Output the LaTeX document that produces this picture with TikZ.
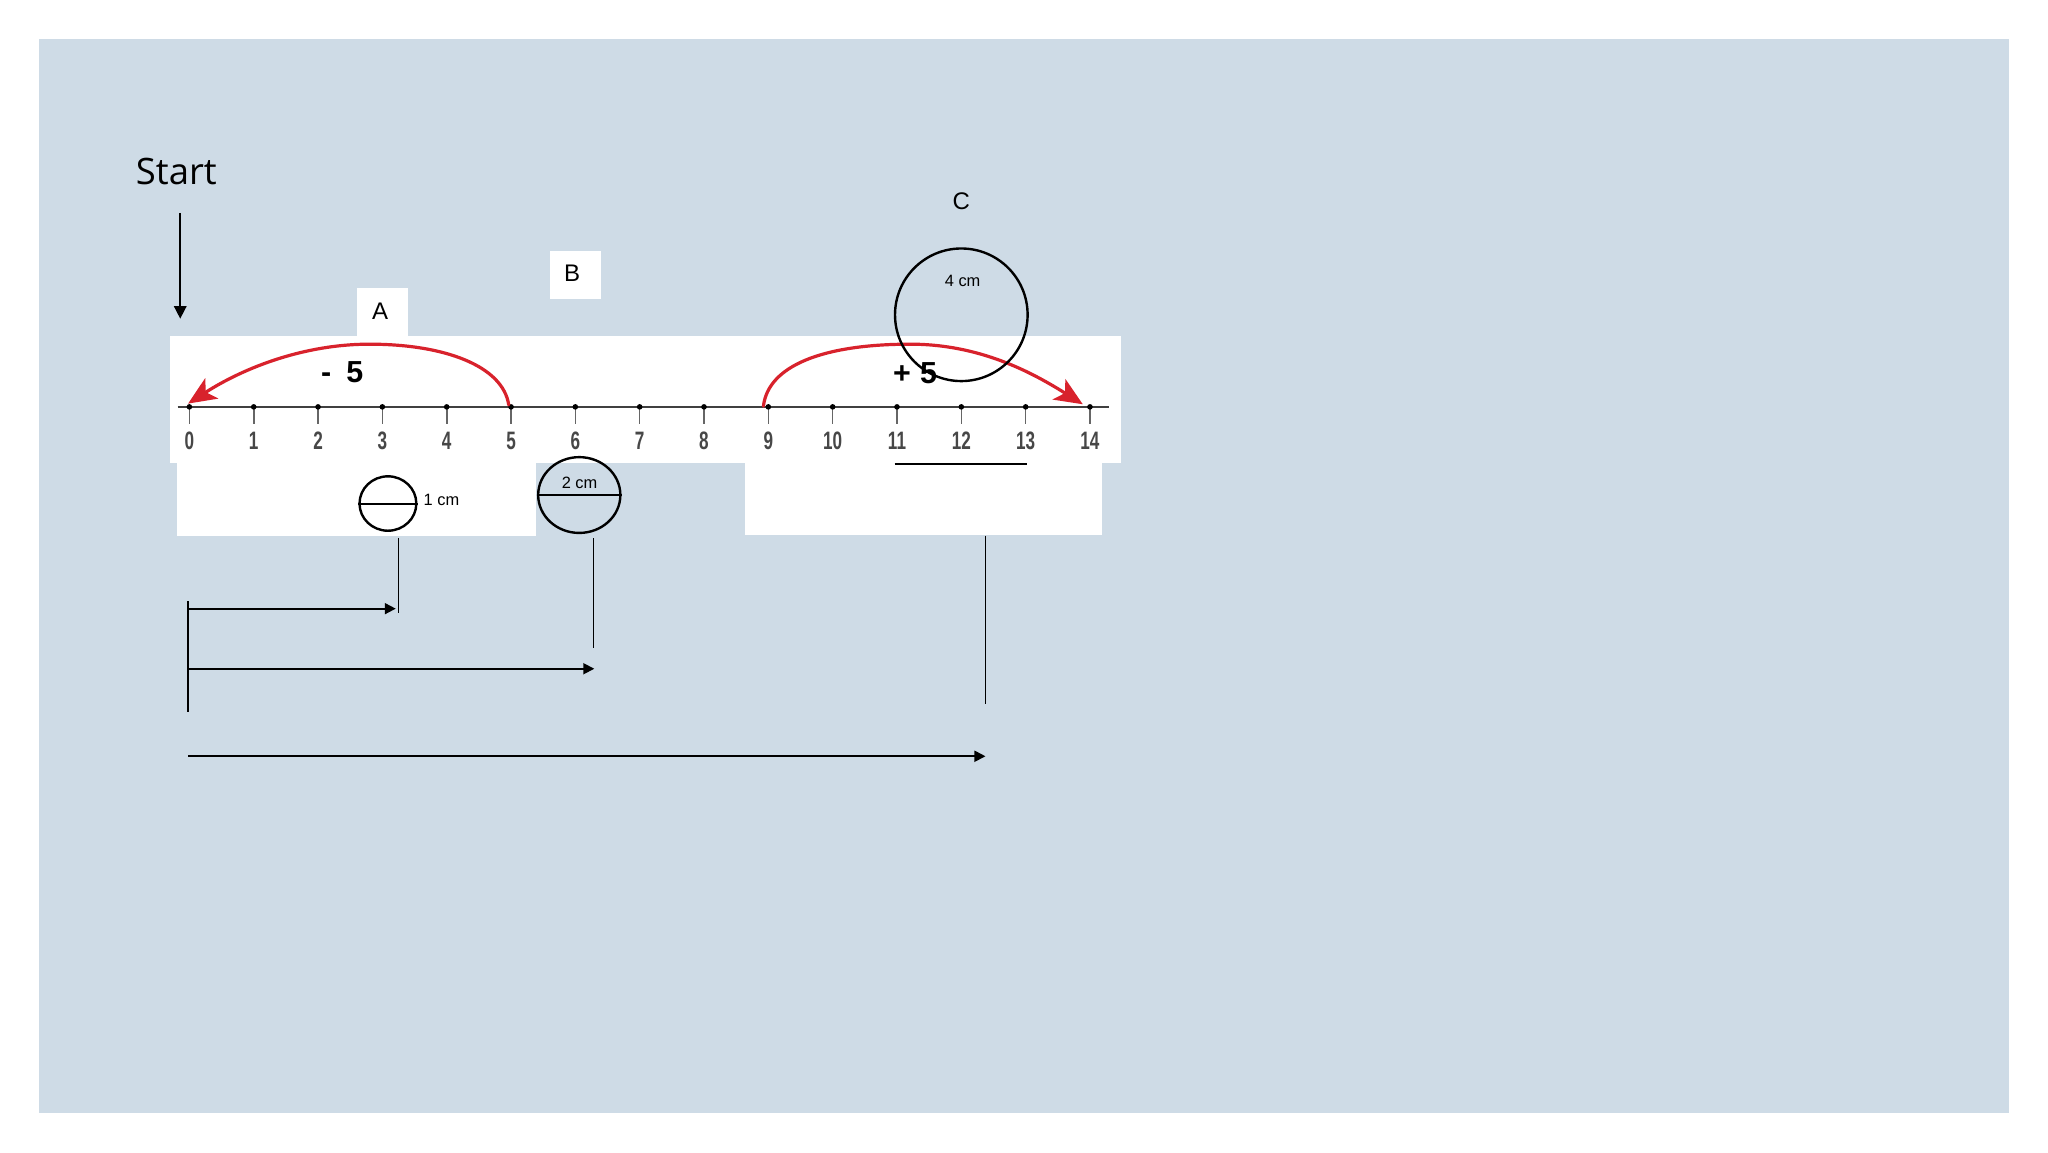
\documentclass[tikz,border=0pt]{standalone}
\usepackage{fontspec}
\setmainfont{Liberation Sans}
\newfontfamily\startfont{Open Sans}
\usetikzlibrary{arrows.meta,shapes.geometric}
\definecolor{bgblue}{HTML}{CEDBE6}
\definecolor{arcred}{HTML}{D8222C}
\definecolor{axisgray}{HTML}{404040}
\begin{document}
\begin{tikzpicture}[x=0.65306pt,y=-0.65306pt,
  txt/.style={font=\fontsize{12}{14}\selectfont, inner sep=0pt},
  smalltxt/.style={font=\fontsize{8.2}{10}\selectfont, inner sep=0pt},
  numlbl/.style={font=\bfseries\fontsize{12.6}{14}\selectfont, text=black!72, inner sep=0pt},
  jump/.style={font=\bfseries\fontsize{15.2}{17}\selectfont, inner sep=0pt},
  wbox/.style={fill=white, draw=none, inner sep=0pt},
  blkarrow/.style={draw=black, line width=0.9pt, -{Triangle[length=5.5pt,width=5.5pt]}},
  thinline/.style={draw=black, line width=0.6pt},
  ring/.style={draw=black, line width=1.2pt, inner sep=0pt},
  redarc/.style={draw=arcred, line width=1.6pt, line cap=round, -{Stealth[length=14pt,width=12pt,inset=3.5pt]}},
  axisline/.style={draw=axisgray, line width=1.3pt},
  tickline/.style={draw=axisgray!80, line width=0.8pt},
]
\fill[white] (0,0) rectangle (1568,882);
\fill[bgblue] (30,30) rectangle (1538,852);
\useasboundingbox (0,0) rectangle (1568,882);

% white panels
\fill[white] (130,257) rectangle (858,354.5);
\fill[white] (135.5,354) rectangle (410,410);
\fill[white] (570.5,354) rectangle (844,409.5);

% label boxes
\node[wbox, minimum width=25.5pt, minimum height=24pt] (boxA) at (292.5,239) {};
\node[txt] (lblA) at (291,238) {A};
\node[wbox, minimum width=25.5pt, minimum height=24.2pt] (boxB) at (440.5,210.5) {};
\node[txt] (lblB) at (438,209) {B};
\node[txt] (lblC) at (736,154) {C};

% Start
\node[font=\startfont\fontsize{18.2}{21}\selectfont, inner sep=0pt] (start) at (135,131) {Start};
\coordinate (s1) at (138,163);
\coordinate (s2) at (138,244);
\draw[blkarrow, line width=1pt, -{Triangle[length=6.3pt,width=6.2pt]}] (s1) -- (s2);

% number line
\draw[axisline] (136,311.5) coordinate (axL) -- (849,311.5) coordinate (axR);
\foreach \i in {0,...,14} {
  \coordinate (t\i) at ({145+49.25*\i},311.5);
  \draw[tickline] (t\i) -- ++(0,13);
  \fill[black] (t\i) circle[radius=1.4pt];
  \node[numlbl] (n\i) at ({145+49.25*\i},337.5) {\scalebox{0.68}[1]{\i}};
}

% red jumps
\coordinate (mTop) at (283,263.5);
\coordinate (mEnd) at (144,309);
\coordinate (pTop) at (697,263.5);
\coordinate (pEnd) at (829,309.5);
\draw[redarc] (389.5,310) .. controls (385,280) and (340,263.5) .. (mTop)
   .. controls (232,263.5) and (186,282) .. (mEnd);
\draw[redarc] (584.5,311) .. controls (588,280) and (630,263.5) .. (pTop)
   .. controls (750,263.5) and (790,285) .. (pEnd);
\node[jump] (minus) at (262,285.3) {-\hspace{0.5em}5};
\node[jump] (plus) at (700.6,285.7) {+\hspace{0.3em}5};

% circle C
\node[ring, circle, minimum size=66.3pt] (cC) at (736,241) {};
\node[smalltxt] (lbl4) at (737,215) {4 cm};
\coordinate (u1) at (685,355);
\coordinate (u2) at (786,355);
\draw[line width=1pt] (u1) -- (u2);

% 1 cm circle
\node[ring, ellipse, minimum width=28.4pt, minimum height=27.2pt] (c1) at (297,385.5) {};
\draw[line width=1pt] (c1.west) -- (c1.east);
\node[smalltxt] (lbl1) at (338,383) {1 cm};

% 2 cm circle
\node[ring, ellipse, minimum width=41.1pt, minimum height=37.9pt] (c2) at (443.5,379) {};
\draw[line width=1pt] (c2.west) -- (c2.east);
\node[smalltxt] (lbl2) at (443.7,370) {2 cm};

% drop lines
\coordinate (v1t) at (305,412);   \coordinate (v1b) at (305,469);
\coordinate (v2t) at (454.5,412); \coordinate (v2b) at (454.5,496);
\coordinate (v3t) at (754.5,410); \coordinate (v3b) at (754.5,539);
\draw[thinline] (v1t) -- (v1b);
\draw[thinline] (v2t) -- (v2b);
\draw[thinline] (v3t) -- (v3b);

% left bar and arrows
\coordinate (L1) at (144,460.5); \coordinate (L2) at (144,545);
\draw[thinline, line width=0.7pt] (L1) -- (L2);
\coordinate (a1s) at (144,466); \coordinate (a1e) at (303,466);
\coordinate (a2s) at (144,512); \coordinate (a2e) at (455,512);
\coordinate (a3s) at (144,579); \coordinate (a3e) at (754.5,579);
\draw[blkarrow] (a1s) -- (a1e);
\draw[blkarrow] (a2s) -- (a2e);
\draw[blkarrow] (a3s) -- (a3e);
\end{tikzpicture}
\end{document}
